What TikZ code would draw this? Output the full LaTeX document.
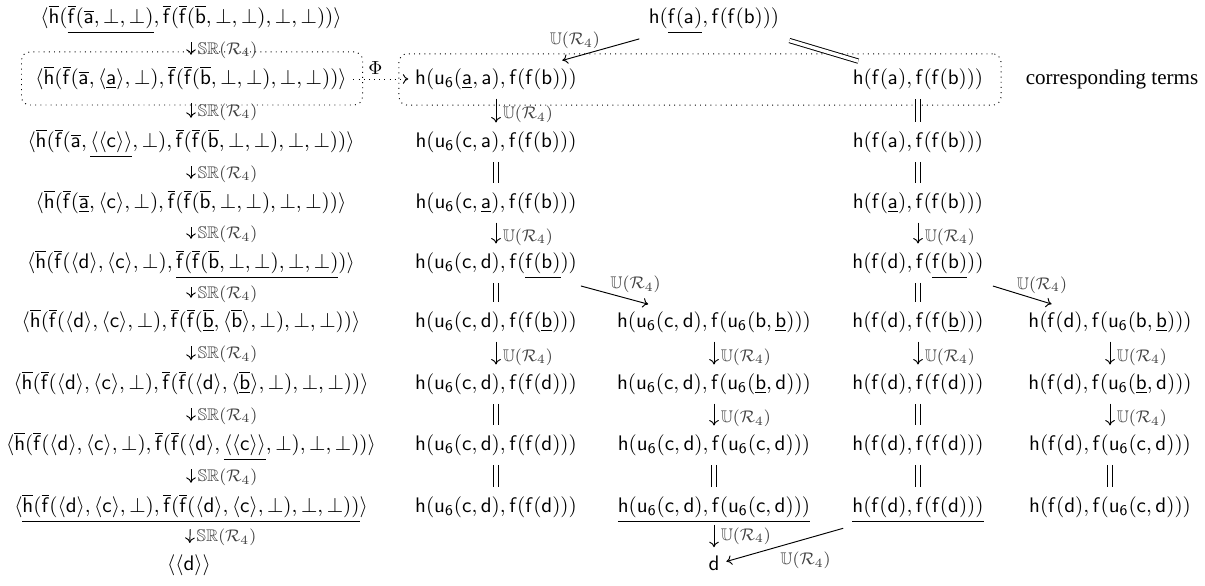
\documentclass[tikz,border=0pt]{standalone}
\usepackage[no-math]{fontspec}
\usepackage{amsmath,amssymb}
\newfontfamily\timesf{Liberation Serif}
\usetikzlibrary{arrows.meta}
\newcommand\hB{\overline{\mathsf{h}}}
\newcommand\fB{\overline{\mathsf{f}}}
\newcommand\aB{\overline{\mathsf{a}}}
\newcommand\bB{\overline{\mathsf{b}}}
\newcommand\Lan{\langle}
\newcommand\Ran{\rangle}
\newcommand\SRlab{$\mathbb{SR}(\mathcal{R}_4)$}
\newcommand\Ulab{$\mathbb{U}(\mathcal{R}_4)$}
\begin{document}
\begin{tikzpicture}[x=0.475pt,y=-0.475pt,line width=0.45pt,
  >={Computer Modern Rightarrow[length=2.6pt,width=4.6pt]},
  term/.style={inner sep=0pt,text height=9pt,text depth=3.5pt},
  lab/.style={font=\footnotesize,inner sep=0pt,text=black!75},
  srarr/.style={->,shorten <=5pt,shorten >=5pt},
  uarr/.style={->,shorten <=2.8pt,shorten >=2.8pt},
  eqline/.style={double,double distance=1.6pt,shorten <=3pt,shorten >=3pt},
  corr/.style={draw,dotted,rounded corners=4pt,inner sep=0pt}]
\useasboundingbox (0,0) rectangle (1205,586);

% left column
\node[term] (L0) at (191,18) {$\Lan\hB(\underline{\fB(\aB,\bot,\bot)},\fB(\fB(\bB,\bot,\bot),\bot,\bot))\Ran$};
\node[term] (L1) at (191,79) {$\Lan\hB(\fB(\aB,\Lan\underline{\mathsf{a}}\Ran,\bot),\fB(\fB(\bB,\bot,\bot),\bot,\bot))\Ran$};
\node[term] (L2) at (191,142) {$\Lan\hB(\fB(\aB,\underline{\Lan\Lan\mathsf{c}\Ran\Ran},\bot),\fB(\fB(\bB,\bot,\bot),\bot,\bot))\Ran$};
\node[term] (L3) at (191,203) {$\Lan\hB(\fB(\underline{\aB},\Lan\mathsf{c}\Ran,\bot),\fB(\fB(\bB,\bot,\bot),\bot,\bot))\Ran$};
\node[term] (L4) at (191,263) {$\Lan\hB(\fB(\Lan\mathsf{d}\Ran,\Lan\mathsf{c}\Ran,\bot),\underline{\fB(\fB(\bB,\bot,\bot),\bot,\bot)})\Ran$};
\node[term] (L5) at (191,322) {$\Lan\hB(\fB(\Lan\mathsf{d}\Ran,\Lan\mathsf{c}\Ran,\bot),\fB(\fB(\underline{\bB},\Lan\bB\Ran,\bot),\bot,\bot))\Ran$};
\node[term] (L6) at (191,384) {$\Lan\hB(\fB(\Lan\mathsf{d}\Ran,\Lan\mathsf{c}\Ran,\bot),\fB(\fB(\Lan\mathsf{d}\Ran,\Lan\underline{\bB}\Ran,\bot),\bot,\bot))\Ran$};
\node[term] (L7) at (191,445) {$\Lan\hB(\fB(\Lan\mathsf{d}\Ran,\Lan\mathsf{c}\Ran,\bot),\fB(\fB(\Lan\mathsf{d}\Ran,\underline{\Lan\Lan\mathsf{c}\Ran\Ran},\bot),\bot,\bot))\Ran$};
\node[term] (L8) at (191,507) {$\Lan\underline{\hB(\fB(\Lan\mathsf{d}\Ran,\Lan\mathsf{c}\Ran,\bot),\fB(\fB(\Lan\mathsf{d}\Ran,\Lan\mathsf{c}\Ran,\bot),\bot,\bot))}\Ran$};
\node[term] (L9) at (189,565) {$\Lan\Lan\mathsf{d}\Ran\Ran$};

% top term
\node[term] (T0) at (714,18) {$\mathsf{h(\underline{f(a)},f(f(b)))}$};

% column 2
\node[term] (C21) at (496,79) {$\mathsf{h(u_6(\underline{a},a),f(f(b)))}$};
\node[term] (C22) at (496,142) {$\mathsf{h(u_6(c,a),f(f(b)))}$};
\node[term] (C23) at (496,203) {$\mathsf{h(u_6(c,\underline{a}),f(f(b)))}$};
\node[term] (C24) at (496,263) {$\mathsf{h(u_6(c,d),f(\underline{f(b)}))}$};
\node[term] (C25) at (496,322) {$\mathsf{h(u_6(c,d),f(f(\underline{b})))}$};
\node[term] (C26) at (496,384) {$\mathsf{h(u_6(c,d),f(f(d)))}$};
\node[term] (C27) at (496,445) {$\mathsf{h(u_6(c,d),f(f(d)))}$};
\node[term] (C28) at (496,507) {$\mathsf{h(u_6(c,d),f(f(d)))}$};

% column 3
\node[term] (C35) at (714,322) {$\mathsf{h(u_6(c,d),f(u_6(b,\underline{b})))}$};
\node[term] (C36) at (714,384) {$\mathsf{h(u_6(c,d),f(u_6(\underline{b},d)))}$};
\node[term] (C37) at (714,445) {$\mathsf{h(u_6(c,d),f(u_6(c,d)))}$};
\node[term] (C38) at (714,507) {$\mathsf{\underline{h(u_6(c,d),f(u_6(c,d)))}}$};
\node[term] (D) at (714,565) {$\mathsf{d}$};

% column 4
\node[term] (C41) at (918,79) {$\mathsf{h(f(a),f(f(b)))}$};
\node[term] (C42) at (918,142) {$\mathsf{h(f(a),f(f(b)))}$};
\node[term] (C43) at (918,203) {$\mathsf{h(f(\underline{a}),f(f(b)))}$};
\node[term] (C44) at (918,263) {$\mathsf{h(f(d),f(\underline{f(b)}))}$};
\node[term] (C45) at (918,322) {$\mathsf{h(f(d),f(f(\underline{b})))}$};
\node[term] (C46) at (918,384) {$\mathsf{h(f(d),f(f(d)))}$};
\node[term] (C47) at (918,445) {$\mathsf{h(f(d),f(f(d)))}$};
\node[term] (C48) at (918,507) {$\mathsf{\underline{h(f(d),f(f(d)))}}$};

% column 5
\node[term] (C55) at (1110,322) {$\mathsf{h(f(d),f(u_6(b,\underline{b})))}$};
\node[term] (C56) at (1110,384) {$\mathsf{h(f(d),f(u_6(\underline{b},d)))}$};
\node[term] (C57) at (1110,445) {$\mathsf{h(f(d),f(u_6(c,d)))}$};
\node[term] (C58) at (1110,507) {$\mathsf{h(f(d),f(u_6(c,d)))}$};

% corresponding boxes
\node[corr,minimum width=162pt,minimum height=25.2pt] (B1) at (192,78.5) {};
\node[corr,minimum width=286pt,minimum height=24.4pt] (B2) at (700,79.5) {};
\node[inner sep=0pt,font=\timesf] (CT) at (1112,79) {corresponding terms};

% left column arrows
\foreach \a/\b in {L0/L1,L1/L2,L2/L3,L3/L4,L4/L5,L5/L6,L6/L7,L7/L8}
  \draw[srarr] (\a) -- (\b) node[lab,pos=0.55,right=3pt] {\SRlab};
\draw[srarr,shorten <=4pt,shorten >=4pt] (L8) -- (L9) node[lab,pos=0.55,right=3pt] {\SRlab};

% U arrows
\foreach \a/\b in {C21/C22,C23/C24,C25/C26,C35/C36,C36/C37,C43/C44,C45/C46,C55/C56,C56/C57}
  \draw[uarr] (\a) -- (\b) node[lab,pos=0.62,right=3pt] {\Ulab};
\draw[uarr,shorten <=2pt,shorten >=2pt] (C38) -- (D) node[lab,pos=0.5,right=3pt] {\Ulab};

% equalities
\foreach \a/\b in {C22/C23,C24/C25,C26/C27,C27/C28,C37/C38,C41/C42,C42/C43,C44/C45,C46/C47,C47/C48,C57/C58}
  \draw[eqline] (\a) -- (\b);

% diagonal connectors
\draw[->,shorten <=12.8pt,shorten >=8.7pt] (T0) -- (C21) node[lab,pos=0.75,above=3.5pt] {\Ulab};
\draw[double,double distance=1.6pt,shorten <=14.8pt,shorten >=7pt] (T0) -- (C41);
\draw[->,shorten <=17pt,shorten >=7.6pt] (C24) -- (C35) node[lab,pos=0.76,above=3.5pt] {\Ulab};
\draw[->,shorten <=15.2pt,shorten >=7pt] (C44) -- (C55) node[lab,pos=0.77,above=3.5pt] {\Ulab};
\draw[->,shorten <=13.3pt,shorten >=3.2pt] (C48) -- (D) node[lab,pos=0.43,below=6pt] {\Ulab};

% Phi
\draw[->,dotted,shorten <=3pt,shorten >=3pt] (L1) -- (C21) node[pos=0.42,above=2pt,inner sep=0pt,font=\small] {$\Phi$};
\end{tikzpicture}
\end{document}
